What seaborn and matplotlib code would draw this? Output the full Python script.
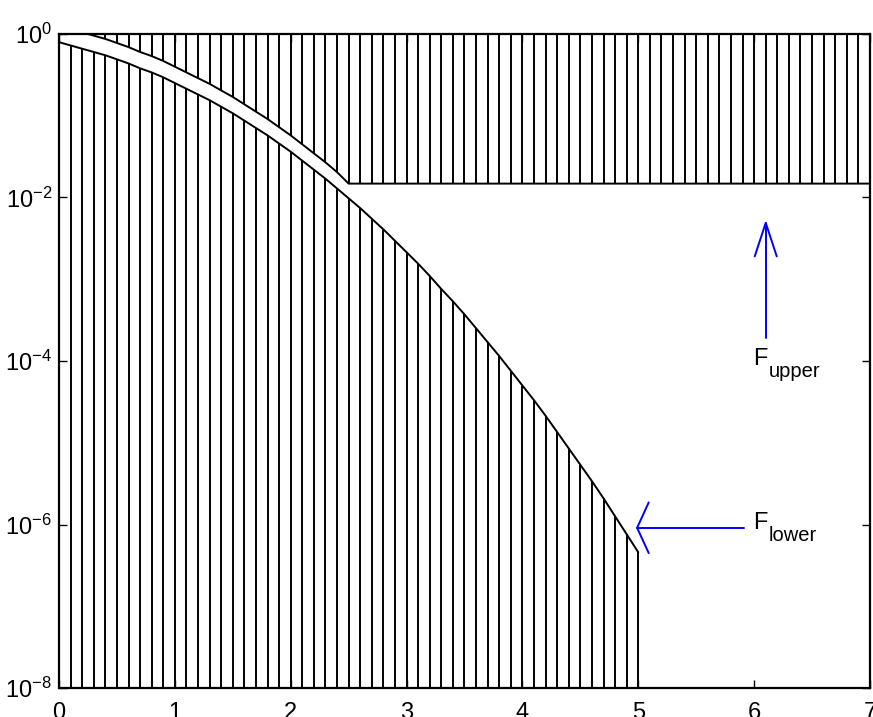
import numpy as np
import pandas as pd
import matplotlib
matplotlib.use("Agg")
import matplotlib.pyplot as plt
import seaborn as sns
from matplotlib.ticker import NullLocator

# sample positions (step 0.1)
X_LOWER = np.round(np.arange(0, 5.01, 0.1), 1)
X_UPPER = np.round(np.arange(0, 7.01, 0.1), 1)

# lower bound, log10 of the value read at each stem (x = 0.0 ... 5.0)
LOWER_LOG10 = [-0.10, -0.14, -0.18, -0.22, -0.26, -0.31, -0.36, -0.42, -0.47, -0.53,
               -0.60, -0.67, -0.74, -0.81, -0.89, -0.97, -1.06, -1.15, -1.24, -1.34,
               -1.44, -1.55, -1.66, -1.77, -1.89, -2.01, -2.13, -2.26, -2.39, -2.53,
               -2.67, -2.81, -2.96, -3.12, -3.27, -3.43, -3.60, -3.77, -3.94, -4.12,
               -4.30, -4.48, -4.67, -4.87, -5.07, -5.27, -5.47, -5.68, -5.90, -6.12,
               -6.34]
# upper bound: curved part for x = 0.0 ... 2.4, then flat floor up to x = 7
UPPER_CURVE_LOG10 = [0.10, 0.06, 0.02, -0.02, -0.06, -0.11, -0.16, -0.22, -0.27, -0.33,
                     -0.40, -0.47, -0.54, -0.61, -0.69, -0.77, -0.86, -0.95, -1.04, -1.14,
                     -1.24, -1.35, -1.46, -1.57, -1.69]
UPPER_FLOOR_LOG10 = -1.83

Y_BOTTOM, Y_TOP = 1e-8, 1e0
Y_TICKS = [1e-8, 1e-6, 1e-4, 1e-2, 1e0]
Y_TICK_LABELS = [r"$10^{-8}$", r"$10^{-6}$", r"$10^{-4}$", r"$10^{-2}$", r"$10^{0}$"]
X_TICKS = [0, 1, 2, 3, 4, 5, 6, 7]

# annotation arrows (x, log10 y)
UP_ARROW = dict(x=6.1, y0=-3.72, tip=-2.31, wing_dx=0.095, wing_dy=0.41)
LEFT_ARROW = dict(y=-6.04, x0=5.91, tip=4.99, wing_dx=0.10, wing_dy=0.31)
LABEL_UPPER = dict(x=5.99, y=-4.05, sub="upper")
LABEL_LOWER = dict(x=5.99, y=-6.06, sub="lower")

sns.set_style("ticks")
plt.rcParams["font.family"] = ["Liberation Sans", "DejaVu Sans"]
plt.rcParams["mathtext.fontset"] = "custom"
plt.rcParams["mathtext.rm"] = "Liberation Sans"
plt.rcParams["mathtext.default"] = "regular"
plt.rcParams["axes.edgecolor"] = "black"
plt.rcParams["xtick.color"] = "black"
plt.rcParams["ytick.color"] = "black"
plt.rcParams["text.color"] = "black"

lower = np.power(10.0, LOWER_LOG10)
upper_log = UPPER_CURVE_LOG10 + [UPPER_FLOOR_LOG10] * (len(X_UPPER) - len(UPPER_CURVE_LOG10))
upper = np.power(10.0, upper_log)
df_low = pd.DataFrame({"x": X_LOWER, "F": lower})
df_up = pd.DataFrame({"x": X_UPPER, "F": upper})

fig = plt.figure(figsize=(8.73, 7.17), dpi=100)
ax = fig.add_axes([59 / 873, 29 / 717, 811 / 873, 654 / 717])
ax.set_yscale("log")

lw = 1.4
ax.vlines(df_low["x"], Y_BOTTOM, df_low["F"], color="black", lw=lw, zorder=2)
ax.vlines(df_up["x"], np.minimum(df_up["F"], Y_TOP), Y_TOP, color="black", lw=lw, zorder=2)
sns.lineplot(data=df_low, x="x", y="F", ax=ax, color="black", lw=lw, estimator=None, zorder=3)
sns.lineplot(data=df_up, x="x", y="F", ax=ax, color="black", lw=lw, estimator=None, zorder=3)

# blue arrows
a = UP_ARROW
ax.plot([a["x"], a["x"]], [10 ** a["y0"], 10 ** a["tip"]], color="blue", lw=1.4)
ax.plot([a["x"] - a["wing_dx"], a["x"], a["x"] + a["wing_dx"]],
        [10 ** (a["tip"] - a["wing_dy"]), 10 ** a["tip"], 10 ** (a["tip"] - a["wing_dy"])],
        color="blue", lw=1.4)
a = LEFT_ARROW
ax.plot([a["x0"], a["tip"]], [10 ** a["y"], 10 ** a["y"]], color="blue", lw=1.4)
ax.plot([a["tip"] + a["wing_dx"], a["tip"], a["tip"] + a["wing_dx"]],
        [10 ** (a["y"] + a["wing_dy"]), 10 ** a["y"], 10 ** (a["y"] - a["wing_dy"])],
        color="blue", lw=1.4)

for lab in (LABEL_UPPER, LABEL_LOWER):
    ax.text(lab["x"], 10 ** lab["y"], "F", fontsize=17, ha="left", va="baseline")
    ax.annotate(lab["sub"], xy=(lab["x"], 10 ** lab["y"]), xytext=(11.5, -8.5),
                textcoords="offset points", fontsize=14.5, ha="left", va="baseline")

ax.set_xlim(0, 7)
ax.set_ylim(Y_BOTTOM, Y_TOP)
ax.set_xticks(X_TICKS)
ax.set_xticklabels([str(t) for t in X_TICKS])
ax.set_yticks(Y_TICKS)
ax.set_yticklabels(Y_TICK_LABELS)
ax.yaxis.set_minor_locator(NullLocator())
ax.set_xlabel("")
ax.set_ylabel("")
ax.tick_params(axis="both", which="major", direction="in", length=5.5, width=1.0,
               top=True, right=True, labelsize=17)
ax.tick_params(axis="x", pad=10)
ax.tick_params(axis="y", pad=5)
for s in ax.spines.values():
    s.set_visible(True)
    s.set_linewidth(1.6)
    s.set_color("black")

fig.savefig("out.png", dpi=100)
